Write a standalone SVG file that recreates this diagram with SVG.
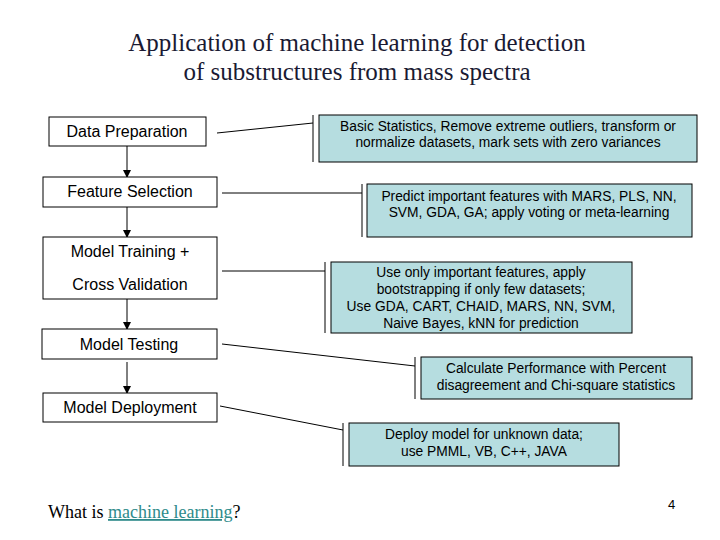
<svg xmlns="http://www.w3.org/2000/svg" width="720" height="540" viewBox="0 0 720 540">
<defs><marker id="ah" markerWidth="8" markerHeight="8" refX="7" refY="4" orient="auto" markerUnits="userSpaceOnUse"><path d="M0,0L8,4L0,8z" fill="#000"/></marker></defs>
<style>
.n{fill:#fff;stroke:#000;stroke-width:1}
.r{fill:#b6dde0;stroke:#000;stroke-width:1}
.t{font-family:"Liberation Sans",Arial,sans-serif;font-size:16px;text-anchor:middle}
.s{font-family:"Liberation Sans",Arial,sans-serif;font-size:13.8px;text-anchor:middle}
.c{stroke:#000;stroke-width:1;fill:none}
.tt{font-family:"Liberation Serif",serif;font-size:25px;text-anchor:middle;fill:#1a1a33}
</style>
<rect width="720" height="540" fill="#fff"/>
<text class="tt" x="357" y="51">Application of machine learning for detection</text>
<text class="tt" x="357" y="80">of substructures from mass spectra</text>
<g id="connectors">
<path class="c" d="M127,146V177" marker-end="url(#ah)"/>
<path class="c" d="M127,207V237" marker-end="url(#ah)"/>
<path class="c" d="M127,299V329" stroke-width="2" marker-end="url(#ah)"/>
<path class="c" d="M127,362V393" marker-end="url(#ah)"/>
<path class="c" d="M217,133L313,123M313,115V162"/>
<path class="c" d="M222,193H362M362,184V237"/>
<path class="c" d="M222,271H325M325,262V333"/>
<path class="c" d="M222,344L415,366M415,357V399"/>
<path class="c" d="M220,406L343,430M343,423V466"/>
</g>
<g id="n1"><rect class="n" x="49" y="117" width="157" height="29"/><text class="t" x="127" y="137">Data Preparation</text></g>
<g id="n2"><rect class="n" x="43" y="177" width="174" height="30"/><text class="t" x="130" y="197">Feature Selection</text></g>
<g id="n3"><rect class="n" x="43" y="237" width="174" height="62"/><text class="t" x="130" y="257">Model Training +</text><text class="t" x="130" y="290">Cross Validation</text></g>
<g id="n4"><rect class="n" x="42" y="329" width="175" height="30"/><text class="t" x="129" y="350">Model Testing</text></g>
<g id="n5"><rect class="n" x="43" y="393" width="174" height="29"/><text class="t" x="130" y="413">Model Deployment</text></g>
<g id="r1"><rect class="r" x="319" y="115" width="378" height="47"/><text class="s" x="508" y="131">Basic Statistics, Remove extreme outliers, transform or</text><text class="s" x="508" y="147">normalize datasets, mark sets with zero variances</text></g>
<g id="r2"><rect class="r" x="367" y="184" width="325" height="53"/><text class="s" x="529" y="201">Predict important features with MARS, PLS, NN,</text><text class="s" x="529" y="217">SVM, GDA, GA; apply voting or meta-learning</text></g>
<g id="r3"><rect class="r" x="331" y="262" width="301" height="71"/><text class="s" x="481" y="277">Use only important features, apply</text><text class="s" x="481" y="294">bootstrapping if only few datasets;</text><text class="s" x="481" y="311">Use GDA, CART, CHAID, MARS, NN, SVM,</text><text class="s" x="481" y="328">Naive Bayes, kNN for prediction</text></g>
<g id="r4"><rect class="r" x="421" y="357" width="271" height="42"/><text class="s" x="556" y="373">Calculate Performance with Percent</text><text class="s" x="556" y="390">disagreement and Chi-square statistics</text></g>
<g id="r5"><rect class="r" x="349" y="423" width="270" height="43"/><text class="s" x="484" y="439">Deploy model for unknown data;</text><text class="s" x="484" y="456">use PMML, VB, C++, JAVA</text></g>
<text x="48" y="518" font-family="Liberation Serif,serif" font-size="18">What is <tspan fill="#2e8b8b" text-decoration="underline">machine learning</tspan>?</text>
<text x="668" y="509" font-family="Liberation Sans,sans-serif" font-size="13">4</text>
</svg>
